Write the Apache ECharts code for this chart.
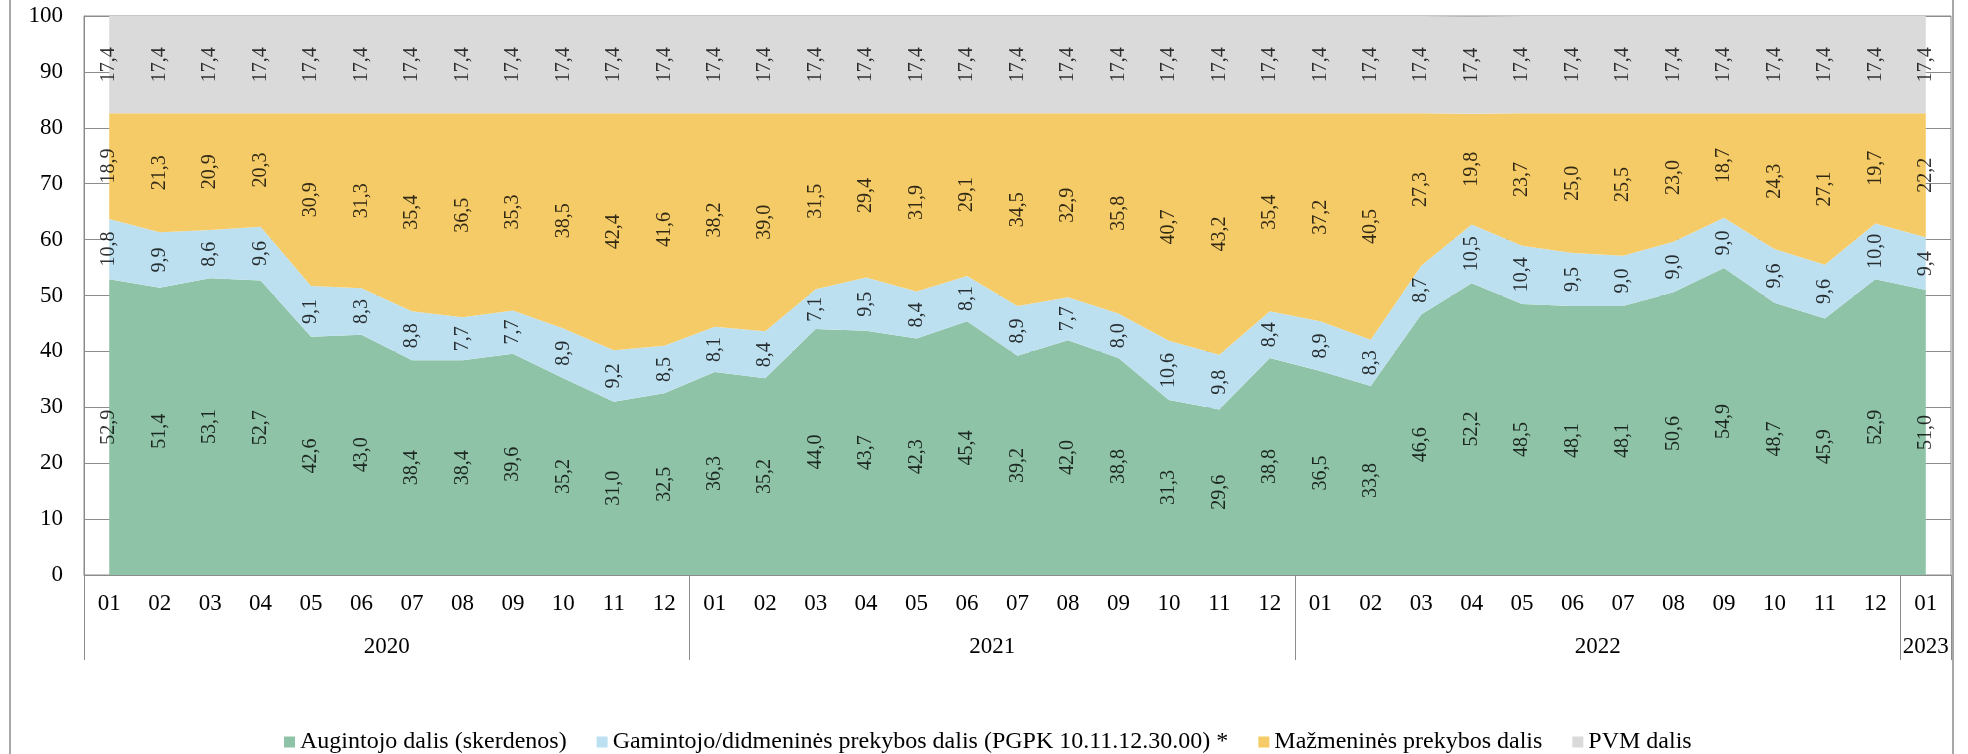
<!DOCTYPE html>
<html>
<head>
<meta charset="UTF-8">
<title>Kainos struktūra</title>
<script src="https://cdn.jsdelivr.net/npm/echarts@6/dist/echarts.min.js"></script>
<style>
	html, body { margin: 0; padding: 0; background: #fff; }
	#chart { width: 1968px; height: 754px; }
</style>
</head>
<body>
<div id="chart"></div>
<script>
// kategorijos (mėnesiai) ir metai
var months = ['01','02','03','04','05','06','07','08','09','10','11','12',
	'01','02','03','04','05','06','07','08','09','10','11','12',
	'01','02','03','04','05','06','07','08','09','10','11','12',
	'01'];
var years = ['2020', '2021', '2022', '2023'];
var monthsPerYear = [12, 12, 12, 1];

// dalys, %
var augintojo = [52.9, 51.4, 53.1, 52.7, 42.6, 43.0, 38.4, 38.4, 39.6, 35.2, 31.0, 32.5,
	36.3, 35.2, 44.0, 43.7, 42.3, 45.4, 39.2, 42.0, 38.8, 31.3, 29.6, 38.8,
	36.5, 33.8, 46.6, 52.2, 48.5, 48.1, 48.1, 50.6, 54.9, 48.7, 45.9, 52.9,
	51.0];
var gamintojo = [10.8, 9.9, 8.6, 9.6, 9.1, 8.3, 8.8, 7.7, 7.7, 8.9, 9.2, 8.5,
	8.1, 8.4, 7.1, 9.5, 8.4, 8.1, 8.9, 7.7, 8.0, 10.6, 9.8, 8.4,
	8.9, 8.3, 8.7, 10.5, 10.4, 9.5, 9.0, 9.0, 9.0, 9.6, 9.6, 10.0,
	9.4];
var mazmenines = [18.9, 21.3, 20.9, 20.3, 30.9, 31.3, 35.4, 36.5, 35.3, 38.5, 42.4, 41.6,
	38.2, 39.0, 31.5, 29.4, 31.9, 29.1, 34.5, 32.9, 35.8, 40.7, 43.2, 35.4,
	37.2, 40.5, 27.3, 19.8, 23.7, 25.0, 25.5, 23.0, 18.7, 24.3, 27.1, 19.7,
	22.2];
var pvm = [17.4, 17.4, 17.4, 17.4, 17.4, 17.4, 17.4, 17.4, 17.4, 17.4, 17.4, 17.4,
	17.4, 17.4, 17.4, 17.4, 17.4, 17.4, 17.4, 17.4, 17.4, 17.4, 17.4, 17.4,
	17.4, 17.4, 17.4, 17.4, 17.4, 17.4, 17.4, 17.4, 17.4, 17.4, 17.4, 17.4,
	17.4];

var seriesNames = ['Augintojo dalis (skerdenos)',
	'Gamintojo/didmeninės prekybos dalis (PGPK 10.11.12.30.00) *',
	'Mažmeninės prekybos dalis',
	'PVM dalis'];
var colors = ['#8ec3a7', '#bde0f0', '#f5cb67', '#dadada'];
var allData = [augintojo, gamintojo, mazmenines, pvm];

var font = 'Liberation Serif';

// metų ribos ir vidurio taškai
var yearBounds = [0];
var yearCenters = [];
monthsPerYear.forEach(function (n) {
	var start = yearBounds[yearBounds.length - 1];
	yearCenters.push(start + n / 2);
	yearBounds.push(start + n);
});

function fmt(v) {
	return v.toFixed(1).replace('.', ',');
}

var series = [];
// plotai
allData.forEach(function (arr, k) {
	series.push({
		name: seriesNames[k],
		type: 'line',
		stack: 'visi',
		data: arr,
		showSymbol: false,
		symbol: 'none',
		lineStyle: { width: 0 },
		areaStyle: { color: colors[k], opacity: 1 },
		itemStyle: { color: colors[k] },
		silent: true,
		z: 2
	});
});
// reikšmių užrašai juostų viduryje
allData.forEach(function (arr, k) {
	var mids = arr.map(function (v, i) {
		var below = 0;
		for (var j = 0; j < k; j++) below += allData[j][i];
		return below + v / 2;
	});
	series.push({
		name: 'lbl' + k,
		type: 'scatter',
		data: mids,
		symbolSize: 0,
		silent: true,
		z: 5,
		label: {
			show: true,
			position: 'inside',
			rotate: 90,
			color: '#000',
			fontFamily: font,
			fontSize: 20,
			formatter: function (p) { return fmt(arr[p.dataIndex]); }
		}
	});
});

var chart = echarts.init(document.getElementById('chart'));

var option = {
	animation: false,
	backgroundColor: '#fff',
	textStyle: { fontFamily: font },
	grid: {
		left: 84, right: 17, top: 16, bottom: 179,
		show: true, borderColor: '#8c8c8c', borderWidth: 1
	},
	legend: {
		data: seriesNames,
		top: 725,
		left: 279,
		icon: 'rect',
		itemWidth: 11,
		itemHeight: 11,
		itemGap: 30,
		textStyle: { fontFamily: font, fontSize: 24, color: '#000' }
	},
	xAxis: [{
		type: 'category',
		data: months,
		boundaryGap: true,
		axisLine: { lineStyle: { color: '#8c8c8c', width: 1 } },
		axisTick: { show: false },
		axisLabel: { interval: 0, margin: 17, color: '#000', fontFamily: font, fontSize: 23 }
	}, {
		type: 'value',
		position: 'bottom',
		min: 0,
		max: months.length,
		axisLine: { show: false },
		splitLine: { show: false },
		axisTick: {
			show: true,
			customValues: yearBounds,
			length: 85,
			lineStyle: { color: '#8c8c8c', width: 1 }
		},
		axisLabel: {
			customValues: yearCenters,
			margin: 60,
			color: '#000',
			fontFamily: font,
			fontSize: 23,
			formatter: function (v) {
				for (var i = 0; i < yearCenters.length; i++) {
					if (Math.abs(yearCenters[i] - v) < 0.01) return years[i];
				}
				return '';
			}
		}
	}],
	yAxis: {
		type: 'value',
		min: 0,
		max: 100,
		interval: 10,
		axisLine: { show: true, lineStyle: { color: '#8c8c8c', width: 1 } },
		axisTick: { show: false },
		splitLine: { show: true, lineStyle: { color: '#8c8c8c', width: 1 } },
		axisLabel: { margin: 21, color: '#000', fontFamily: font, fontSize: 23 }
	},
	graphic: [{
		type: 'rect',
		shape: { x: 10, y: -10, width: 1943, height: 780 },
		style: { fill: 'none', stroke: '#8c8c8c', lineWidth: 1.5 },
		silent: true,
		z: -1
	}],
	series: series
};

chart.setOption(option);
</script>
</body>
</html>
